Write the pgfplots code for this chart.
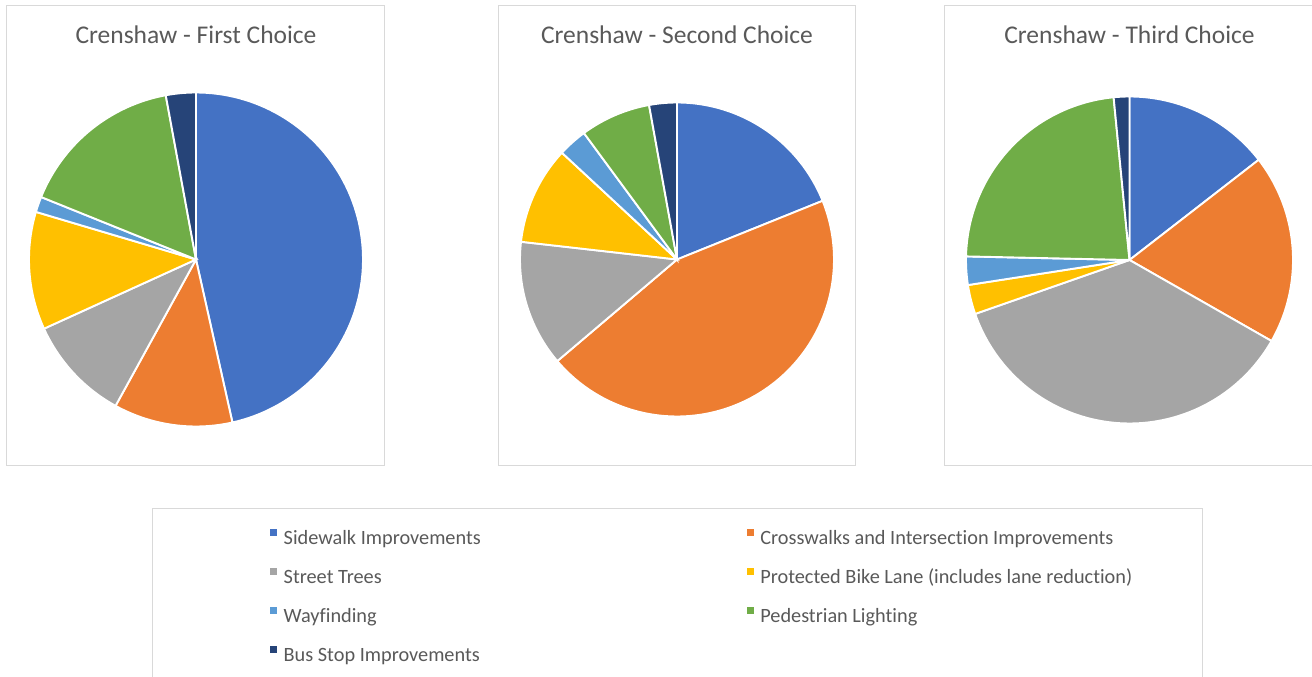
\documentclass[border=0pt]{standalone}
\usepackage{pgfplots}
\pgfplotsset{compat=1.18}
\usepackage{fontspec}
\setmainfont{Carlito}[Ligatures={NoCommon}]
\definecolor{cBlue}{HTML}{4472C4}
\definecolor{cOrange}{HTML}{ED7D31}
\definecolor{cGray}{HTML}{A5A5A5}
\definecolor{cGold}{HTML}{FFC000}
\definecolor{cLBlue}{HTML}{5B9BD5}
\definecolor{cGreen}{HTML}{70AD47}
\definecolor{cDBlue}{HTML}{264478}
\definecolor{txt}{HTML}{595959}
\definecolor{boxline}{HTML}{D9D9D9}
\newcommand\titlefont{\fontsize{25.5bp}{30bp}\selectfont}
\newcommand\legfont{\fontsize{20.3bp}{24bp}\selectfont}

% pie slices: #1 radius, #2 shares in percent (clockwise from 12 o'clock)
\newcommand{\pieslices}[2]{%
  \gdef\cumA{0}%
  \pgfplotsforeachungrouped \v in {#2}{%
    \pgfmathsetmacro\startA{\cumA}%
    \pgfmathsetmacro\endA{\cumA+3.6*\v}%
    \xdef\cumA{\endA}%
    \edef\tmp{\noexpand\addplot+[domain=\startA:\endA, samples=90]
      ({#1*sin(x)},{#1*cos(x)}) -- (0,0) -- cycle;}%
    \tmp
  }%
}

\pgfplotsset{
  piebox/.style={
    scale only axis, anchor=south west, clip=false,
    axis line style={draw=boxline, line width=1bp},
    xtick=\empty, ytick=\empty,
    cycle list={{fill=cBlue},{fill=cOrange},{fill=cGray},{fill=cGold},{fill=cLBlue},{fill=cGreen},{fill=cDBlue}},
    every axis plot/.append style={draw=white, line width=1.9bp, mark=none},
  },
}

\begin{document}
\begin{tikzpicture}
\useasboundingbox (0,0) rectangle (1312bp,677bp);
\clip (0,0) rectangle (1312bp,677bp);

% First choice
\begin{axis}[piebox, at={(6.7bp,211bp)}, width=377.6bp, height=460.7bp,
  xmin=-189.3, xmax=188.3, ymin=-206.5, ymax=254.2]
\pieslices{167}{46.5,11.5,10.2,11.4,1.5,16.0,2.9}
\node[anchor=base, text=txt, font=\titlefont, inner sep=0pt] at (axis cs:0,215.5) {Crenshaw - First Choice};
\end{axis}

% Second choice
\begin{axis}[piebox, at={(498.3bp,211bp)}, width=357.4bp, height=460.7bp,
  xmin=-178.7, xmax=178.7, ymin=-206.5, ymax=254.2]
\pieslices{157}{18.9,44.9,13.0,10.1,3.0,7.25,2.85}
\node[anchor=base, text=txt, font=\titlefont, inner sep=0pt] at (axis cs:0,215.5) {Crenshaw - Second Choice};
\end{axis}

% Third choice
\begin{axis}[piebox, at={(944.3bp,211bp)}, width=376bp, height=460.7bp,
  xmin=-185.2, xmax=190.8, ymin=-206, ymax=254.7]
\pieslices{163.5}{14.5,18.75,36.4,2.9,2.8,23.1,1.55}
\node[anchor=base, text=txt, font=\titlefont, inner sep=0pt] at (axis cs:0,216) {Crenshaw - Third Choice};
\end{axis}

% Legend
\begin{axis}[scale only axis, anchor=south west, at={(152bp,-10bp)},
  width=1050bp, height=178bp, xmin=152, xmax=1202, ymin=-10, ymax=168,
  axis line style={draw=boxline, line width=1bp}, xtick=\empty, ytick=\empty,
  legend columns=2, legend cell align=left,
  legend image code/.code={\fill[#1, draw=none] (0bp,3.5bp) rectangle (7bp,10.5bp); \path[draw=none, fill=none] (0bp,0bp) -- (13.5bp,0bp);},
  legend style={at={(axis cs:270,148)}, anchor=north west, draw=none, fill=none,
    inner sep=0pt, font=\legfont, text=txt, row sep=18.5bp,
    nodes={inner sep=0pt, text height=15bp, text depth=5bp},
    /tikz/every even column/.append style={column sep=266bp}}]
\addlegendimage{fill=cBlue, draw=none}\addlegendentry{Sidewalk Improvements}
\addlegendimage{fill=cOrange, draw=none}\addlegendentry{Crosswalks and Intersection Improvements}
\addlegendimage{fill=cGray, draw=none}\addlegendentry{Street Trees}
\addlegendimage{fill=cGold, draw=none}\addlegendentry{Protected Bike Lane (includes lane reduction)}
\addlegendimage{fill=cLBlue, draw=none}\addlegendentry{Wayfinding}
\addlegendimage{fill=cGreen, draw=none}\addlegendentry{Pedestrian Lighting}
\addlegendimage{fill=cDBlue, draw=none}\addlegendentry{Bus Stop Improvements}
\end{axis}
\end{tikzpicture}
\end{document}
